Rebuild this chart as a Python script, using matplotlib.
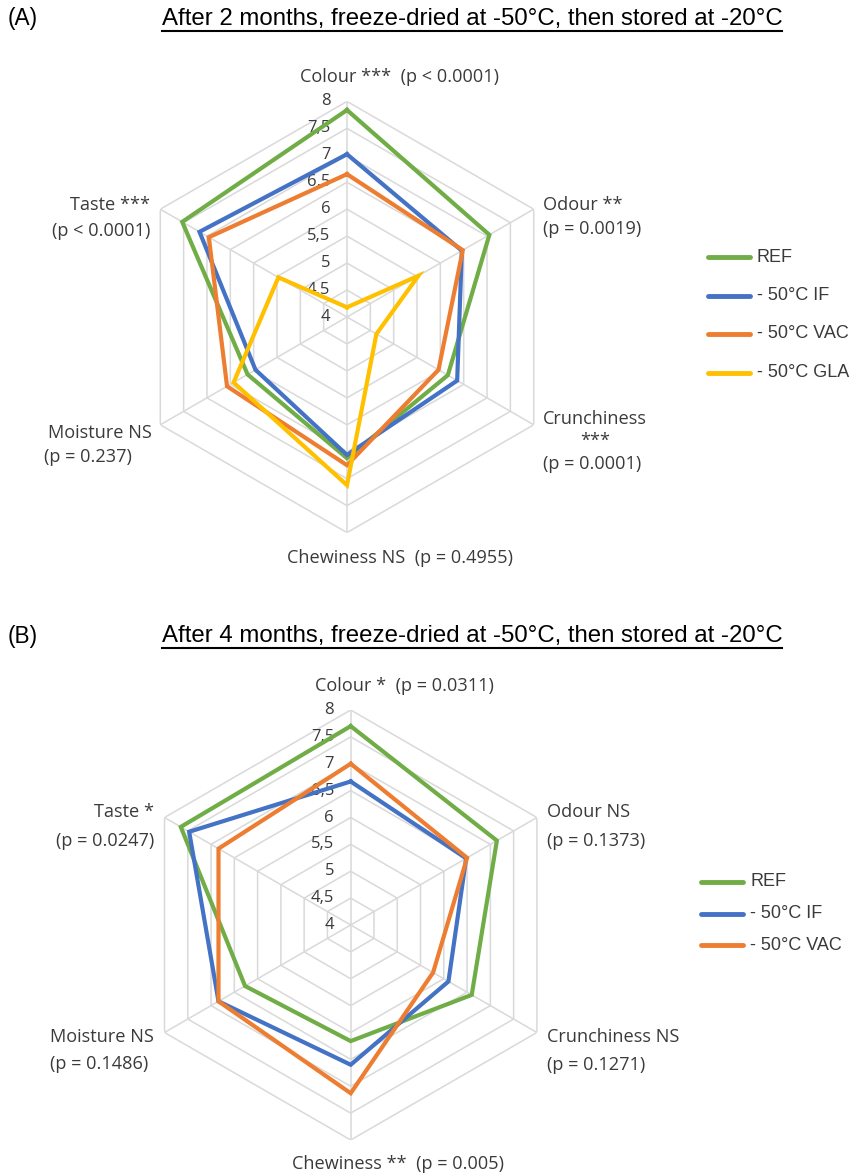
import numpy as np
import matplotlib
matplotlib.use("Agg")
import matplotlib.pyplot as plt
from matplotlib import font_manager
from matplotlib.lines import Line2D

# --- data -------------------------------------------------------------
attributes = ["Colour", "Odour", "Crunchiness", "Chewiness", "Moisture", "Taste"]
grid_levels = [4, 4.5, 5, 5.5, 6, 6.5, 7, 7.5, 8]
grid_labels = ["4", "4,5", "5", "5,5", "6", "6,5", "7", "7,5", "8"]

series_names_a = ["REF", "- 50°C IF", "- 50°C VAC", "- 50°C GLA"]
ref_a = [7.84, 7.05, 6.16, 6.62, 6.13, 7.53]
if_a = [7.02, 6.46, 6.36, 6.56, 5.96, 7.16]
vac_a = [6.65, 6.48, 5.96, 6.75, 6.57, 6.96]
gla_a = [4.18, 5.53, 4.63, 7.12, 6.43, 5.47]

series_names_b = ["REF", "- 50°C IF", "- 50°C VAC"]
ref_b = [7.70, 7.14, 6.60, 6.16, 6.27, 7.65]
if_b = [6.67, 6.48, 6.10, 6.60, 6.84, 7.47]
vac_b = [7.00, 6.50, 5.77, 7.13, 6.84, 6.84]

title_a = "After 2 months, freeze-dried at -50°C, then stored at -20°C"
title_b = "After 4 months, freeze-dried at -50°C, then stored at -20°C"

colors = ["#70AD47", "#4472C4", "#ED7D31", "#FFC000"]

W, H = 852, 1175
names = {f.name for f in font_manager.fontManager.ttflist}
title_font = "Liberation Sans Narrow" if "Liberation Sans Narrow" in names else "Liberation Sans"
title_size = 19.5 if title_font == "Liberation Sans Narrow" else 17.3
label_font = "Open Sans"
label_col = "#3a3a3a"

fig = plt.figure(figsize=(W / 100, H / 100), dpi=100)


def px(x, y):
    return x / W, 1 - y / H


def radar(cx, cy, R, data, names_):
    ax = fig.add_axes([(cx - R) / W, 1 - (cy + R) / H, 2 * R / W, 2 * R / H],
                      projection="polar")
    ax.set_theta_zero_location("N")
    ax.set_theta_direction(-1)
    ax.set_ylim(4, 8)
    ax.grid(False)
    ax.set_xticks([])
    ax.set_yticks([])
    ax.spines["polar"].set_visible(False)
    ax.patch.set_alpha(0)
    ang = np.deg2rad(np.arange(0, 360, 60))
    ang_c = np.append(ang, ang[0])
    for lv in grid_levels[1:]:
        ax.plot(ang_c, [lv] * 7, color="#d9d9d9", lw=1.1, zorder=1)
    for a in ang:
        ax.plot([a, a], [4, 8], color="#d9d9d9", lw=1.1, zorder=1)
    for lv, lab in zip(grid_levels, grid_labels):
        ax.annotate(lab, xy=(0, lv), xytext=(-12, 0), textcoords="offset points",
                    ha="right", va="center", fontsize=12, family=label_font,
                    color=label_col, zorder=2)
    for vals, col, nm in zip(data, colors, names_):
        ax.plot(ang_c, list(vals) + [vals[0]], color=col, lw=3.0, label=nm,
                zorder=3, solid_joinstyle="miter")
    return ax


def legend(x0, y0, step, names_):
    for i, nm in enumerate(names_):
        y = y0 + i * step
        fig.add_artist(Line2D([x0 / W, (x0 + 42) / W], [1 - y / H] * 2,
                              color=colors[i], lw=3.5, solid_capstyle="round"))
        fig.text(*px(x0 + 49, y), nm, ha="left", va="center", fontsize=13,
                 family="Liberation Sans", color="#3a3a3a")


def txt(x, y, s, ha="left"):
    fig.text(*px(x, y), s, ha=ha, va="center", fontsize=13.1,
             family=label_font, color=label_col)


def title(panel, y, s):
    fig.text(*px(8, y), panel, ha="left", va="center", fontsize=title_size - 1,
             family=title_font, color="black")
    return fig.text(*px(472, y), s, ha="center", va="center",
                    fontsize=title_size, family=title_font, color="black")


# --- panel A ----------------------------------------------------------
radar(347, 317, 215.6, [ref_a, if_a, vac_a, gla_a], series_names_a)
t_a = title("(A)", 19, title_a)
txt(300, 77, "Colour ***  (p < 0.0001)")
txt(543, 205, "Odour **")
txt(543, 229, "(p = 0.0019)")
txt(595, 419, "Crunchiness", ha="center")
txt(595, 441, "***", ha="center")
txt(543, 464, "(p = 0.0001)")
txt(287, 558, "Chewiness NS  (p = 0.4955)")
txt(152, 433, "Moisture NS", ha="right")
txt(44, 457, "(p = 0.237)")
txt(150, 205, "Taste ***", ha="right")
txt(150, 231, "(p < 0.0001)", ha="right")
legend(708, 257, 38.5, series_names_a)

# --- panel B ----------------------------------------------------------
radar(350.7, 925, 215, [ref_b, if_b, vac_b], series_names_b)
t_b = title("(B)", 636, title_b)
txt(315, 686, "Colour *  (p = 0.0311)")
txt(547, 812, "Odour NS")
txt(547, 841, "(p = 0.1373)")
txt(547, 1037, "Crunchiness NS")
txt(547, 1065, "(p = 0.1271)")
txt(292, 1164, "Chewiness **  (p = 0.005)")
txt(154, 1037, "Moisture NS", ha="right")
txt(50, 1064, "(p = 0.1486)")
txt(154, 812, "Taste *", ha="right")
txt(154, 841, "(p = 0.0247)", ha="right")
legend(701, 882, 31.5, series_names_b)

# underline the titles
fig.canvas.draw()
for t in (t_a, t_b):
    bb = t.get_window_extent()
    yl = bb.y0 - 1
    fig.add_artist(Line2D([bb.x0 / W, bb.x1 / W], [yl / H, yl / H],
                          color="black", lw=1.5))

fig.savefig("out.png", dpi=100, facecolor="white")
